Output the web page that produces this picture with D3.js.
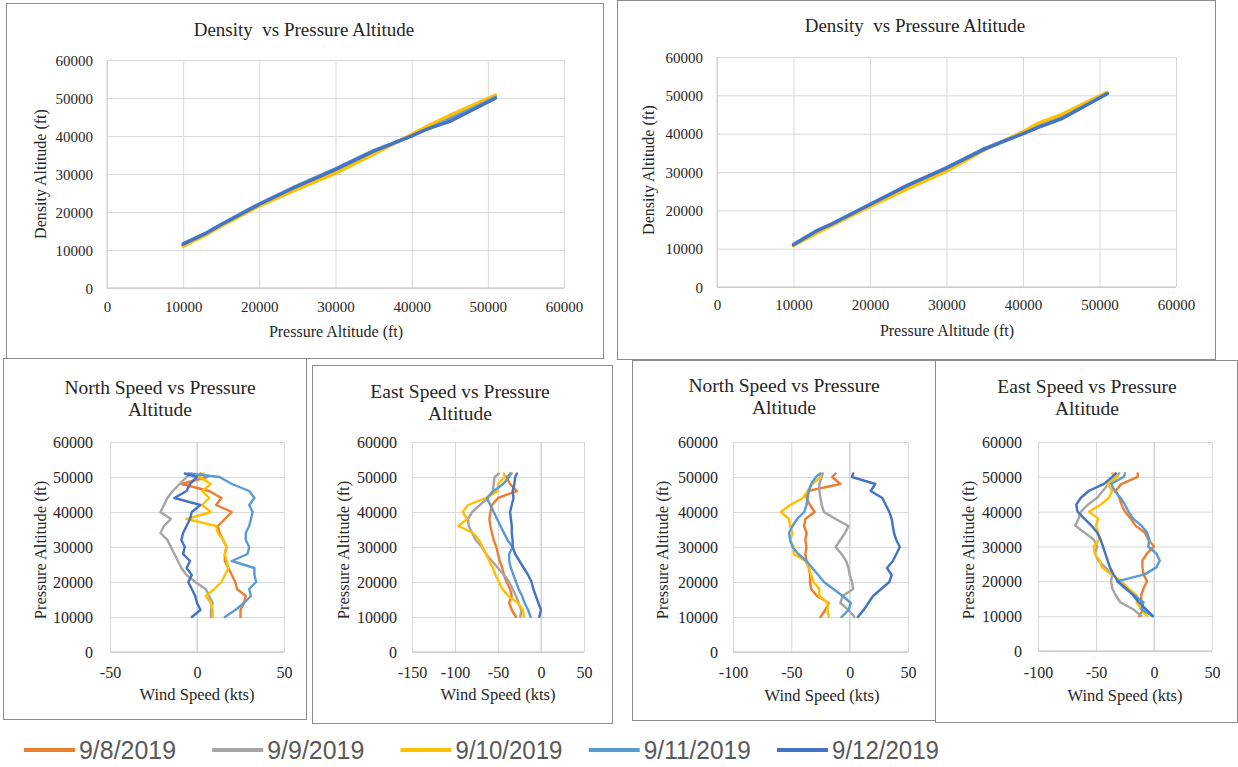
<!DOCTYPE html>
<html><head><meta charset="utf-8">
<script src="https://cdn.jsdelivr.net/npm/d3@7"></script>
<style>body{margin:0;background:#fff}svg{display:block}</style>
</head><body>
<svg id="c" width="1238" height="767"></svg>
<script>
// ---------- DATA ----------
const seriesNames = ["9/8/2019", "9/9/2019", "9/10/2019", "9/11/2019", "9/12/2019"];
const seriesColors = ["#ED7D31", "#A5A5A5", "#FFC000", "#5B9BD5", "#4472C4"];

// Density vs pressure altitude (ft)
const pressureLevels = [10000, 13000, 15000, 20000, 25000, 30000, 35000, 40000, 42000, 45000, 51000];
const densityLeft = [
  [11300, 14300, 16500, 21800, 26300, 30800, 35600, 40300, 42300, 45200, 50500],
  [11200, 14200, 16400, 21800, 26500, 31000, 35800, 40200, 42200, 45000, 50500],
  [11000, 14000, 16300, 21600, 26000, 30200, 35200, 40400, 42600, 45500, 50800],
  [11700, 14500, 16800, 22200, 27000, 31400, 36200, 40000, 41800, 44300, 50200],
  [11500, 14400, 16700, 22000, 26800, 31200, 36000, 40000, 41800, 43800, 49900]
];
const densityRight = [
  [10900, 14300, 16200, 21300, 26300, 30700, 36000, 40300, 42400, 44600, 50600],
  [11000, 14400, 16300, 21400, 26500, 30900, 36000, 40200, 42000, 44300, 50500],
  [10800, 14000, 16000, 21000, 25700, 30200, 35800, 40500, 42800, 45000, 50800],
  [11200, 14700, 16500, 21600, 26700, 31200, 36200, 40000, 41800, 44000, 50500],
  [11000, 14600, 16400, 21500, 26600, 31000, 36000, 40000, 41600, 43800, 50400]
];

// Wind profiles: pressure altitude (ft) and speed (kts)
const altitudes = [10000, 12000, 14000, 16000, 18000, 20000, 22000, 24000, 26000, 28000, 30000,
                   32000, 34000, 36000, 38000, 40000, 42000, 44000, 46000, 48000, 50000, 51000];
const northLeft = [
  [25, 25, 27, 28, 23, 22, 20, 18, 16, 16, 17, 15, 13, 12, 16, 20, 11, 14, 7, -9, 6, 2],
  [8, 8, 9, 7, 5, -1, -6, -9, -11, -13, -15, -17, -21, -19, -15, -21, -19, -17, -14, -10, -6, -3],
  [9, 9, 8, 5, 10, 14, 16, 18, 17, 16, 17, 15, 12, 11, -6, 8, 3, 7, 3, 8, 1, 4],
  [16, 22, 27, 31, 30, 34, 33, 33, 20, 29, 30, 28, 28, 30, 31, 32, 30, 33, 30, 20, 13, -5],
  [-3, 2, 0, -1, -3, -5, -3, -6, -4, -8, -7, -9, -8, -6, -4, -3, 2, -13, -6, -4, 0, -7]
];
const eastLeft = [
  [-29, -34, -37, -34, -36, -40, -43, -45, -48, -50, -52, -55, -57, -59, -60, -59, -57, -50, -28, -36, -40, -34],
  [-24, -23, -26, -29, -33, -37, -43, -50, -57, -64, -69, -76, -80, -84, -85, -80, -71, -62, -56, -55, -54, -49],
  [-20, -21, -27, -38, -45, -49, -53, -56, -60, -64, -68, -72, -79, -96, -86, -91, -85, -64, -50, -50, -42, -43],
  [-12, -15, -19, -22, -26, -29, -32, -35, -37, -37, -33, -39, -43, -47, -51, -55, -59, -63, -55, -44, -37, -36],
  [-2, 0, -3, -6, -9, -11, -15, -20, -25, -30, -33, -33, -34, -34, -35, -36, -34, -32, -33, -31, -30, -28]
];
const northRight = [
  [-25, -21, -18, -28, -33, -34, -34, -35, -37, -38, -37, -38, -37, -39, -38, -30, -34, -37, -36, -8, -15, -12],
  [4, -1, -8, -6, 3, 2, 0, -1, -3, -7, -12, -8, -4, -1, -12, -22, -24, -25, -26, -26, -24, -23],
  [-18, -19, -19, -26, -26, -31, -33, -35, -38, -48, -48, -51, -49, -51, -52, -59, -51, -40, -36, -32, -25, -25],
  [-7, -1, 1, -6, -14, -22, -27, -32, -37, -44, -49, -51, -52, -49, -45, -39, -37, -36, -35, -33, -29, -25],
  [7, 12, 16, 20, 27, 34, 36, 32, 37, 40, 43, 40, 38, 37, 36, 34, 31, 28, 18, 22, 2, 3]
];
const eastRight = [
  [-13, -9, -11, -11, -9, -6, -9, -10, -10, -6, 0, -5, -8, -16, -20, -25, -28, -30, -33, -28, -14, -14],
  [-11, -18, -29, -33, -36, -37, -36, -42, -48, -51, -49, -52, -60, -68, -65, -63, -57, -49, -44, -39, -33, -30],
  [-6, -11, -15, -15, -22, -28, -37, -45, -47, -51, -52, -47, -48, -50, -48, -56, -46, -39, -36, -40, -31, -36],
  [-1, -11, -9, -17, -25, -32, -8, 2, 5, 2, -5, -4, -6, -11, -18, -22, -25, -29, -34, -37, -26, -25],
  [-1, -7, -13, -18, -24, -31, -35, -38, -40, -42, -44, -46, -49, -54, -60, -66, -67, -63, -56, -43, -36, -33]
];

const ticks60k = [0, 10000, 20000, 30000, 40000, 50000, 60000];
const ticksEastLeft = [-150, -100, -50, 0, 50];
const ticksNorthLeft = [-50, 0, 50];
const ticksRight = [-100, -50, 0, 50];

// ---------- DRAWING ----------
const svg = d3.select("#c");
const SERIF = "'Liberation Serif','Times New Roman',serif";
const TXT = "#262626";
const plainFmt = d => String(d);

function drawPanel(p) {
  const g = svg.append("g");
  const [bx0, by0, bx1, by1] = p.box;
  g.append("rect").attr("x", bx0 + 0.5).attr("y", by0 + 0.5)
    .attr("width", bx1 - bx0).attr("height", by1 - by0)
    .attr("fill", "#fff").attr("stroke", "#8c8c8c");
  const [l, t, r, b] = p.plot;
  const x = d3.scaleLinear().domain(p.xDomain).range([l, r]);
  const y = d3.scaleLinear().domain(p.yDomain).range([b, t]);

  // gridlines
  g.append("g").attr("transform", `translate(0,${b})`)
    .call(d3.axisBottom(x).tickValues(p.xTicks).tickSize(-(b - t)).tickFormat(""))
    .call(a => a.select(".domain").remove())
    .call(a => a.selectAll("line").attr("stroke", "#d9d9d9").attr("stroke-width", 1));
  g.append("g").attr("transform", `translate(${l},0)`)
    .call(d3.axisLeft(y).tickValues(p.yTicks).tickSize(-(r - l)).tickFormat(""))
    .call(a => a.select(".domain").remove())
    .call(a => a.selectAll("line").attr("stroke", "#d9d9d9").attr("stroke-width", 1));
  // axis lines
  g.append("line").attr("x1", l).attr("x2", r).attr("y1", y(0)).attr("y2", y(0)).attr("stroke", "#bfbfbf");
  g.append("line").attr("x1", x(0)).attr("x2", x(0)).attr("y1", t).attr("y2", b).attr("stroke", "#cfcfcf");

  // tick labels
  g.append("g").attr("transform", `translate(0,${p.xLabelY})`)
    .call(d3.axisBottom(x).tickValues(p.xTicks).tickSize(0).tickPadding(0).tickFormat(plainFmt))
    .call(a => a.select(".domain").remove())
    .call(a => a.selectAll("text").attr("y", 0).attr("dy", "0.35em")
      .attr("font-family", SERIF).attr("font-size", p.tickFs).attr("fill", TXT));
  g.append("g").attr("transform", `translate(${p.yLabelX},0)`)
    .call(d3.axisLeft(y).tickValues(p.yTicks).tickSize(0).tickPadding(0).tickFormat(plainFmt))
    .call(a => a.select(".domain").remove())
    .call(a => a.selectAll("text").attr("x", 0).attr("dy", "0.35em")
      .attr("font-family", SERIF).attr("font-size", p.tickFs).attr("fill", TXT));

  // series lines
  const line = d3.line().x(d => x(d[0])).y(d => y(d[1]));
  p.series.forEach((pts, i) => {
    g.append("path").datum(pts).attr("d", line).attr("fill", "none")
      .attr("stroke", seriesColors[i]).attr("stroke-width", p.lineW)
      .attr("stroke-linejoin", "round").attr("stroke-linecap", "round");
  });

  // titles
  p.title.forEach((s, k) => {
    g.append("text").attr("x", p.titleX).attr("y", p.titleY + k * p.titleGap)
      .attr("dy", "0.35em").attr("text-anchor", "middle").style("white-space", "pre")
      .attr("font-family", SERIF).attr("font-size", p.titleFs).attr("fill", TXT).text(s);
  });
  g.append("text").attr("x", p.xTitle[0]).attr("y", p.xTitle[1]).attr("dy", "0.35em")
    .attr("text-anchor", "middle").attr("font-family", SERIF).attr("font-size", p.axisFs)
    .attr("fill", TXT).text(p.xTitleText);
  g.append("text").attr("transform", `translate(${p.yTitle[0]},${p.yTitle[1]}) rotate(-90)`)
    .attr("dy", "0.35em").attr("text-anchor", "middle").attr("font-family", SERIF)
    .attr("font-size", p.axisFs).attr("fill", TXT).text(p.yTitleText);
}

const densitySeries = arr => arr.map(vals => pressureLevels.map((pa, k) => [pa, vals[k]]));
const windSeries = arr => arr.map(vals => altitudes.map((a, k) => [vals[k], a]));

const topCommon = {
  xDomain: [0, 60000], yDomain: [0, 60000], xTicks: ticks60k, yTicks: ticks60k,
  tickFs: 15, titleFs: 19, axisFs: 16, lineW: 3.2, titleGap: 0,
  xTitleText: "Pressure Altitude (ft)", yTitleText: "Density Altitude (ft)",
  title: ["Density  vs Pressure Altitude"]
};
drawPanel(Object.assign({}, topCommon, {
  box: [6, 3, 603, 358], plot: [107, 60, 564, 288],
  xLabelY: 307, yLabelX: 93, titleX: 304, titleY: 29,
  xTitle: [336, 331], yTitle: [40, 174],
  series: densitySeries(densityLeft)
}));
drawPanel(Object.assign({}, topCommon, {
  box: [617, 0, 1215, 359], plot: [717, 57, 1176, 287],
  xLabelY: 305, yLabelX: 703, titleX: 915, titleY: 25,
  xTitle: [947, 330], yTitle: [648, 170],
  series: densitySeries(densityRight)
}));

const botCommon = {
  yDomain: [0, 60000], yTicks: ticks60k, tickFs: 16, titleFs: 19.5, axisFs: 16.5,
  lineW: 2.4, titleGap: 22, xTitleText: "Wind Speed (kts)", yTitleText: "Pressure Altitude (ft)"
};
drawPanel(Object.assign({}, botCommon, {
  box: [3, 358, 306, 719], plot: [110, 442, 284, 652],
  xDomain: [-50, 50], xTicks: ticksNorthLeft,
  xLabelY: 672, yLabelX: 93, titleX: 160, titleY: 387,
  title: ["North Speed vs Pressure", "Altitude"],
  xTitle: [197, 694], yTitle: [40, 550],
  series: windSeries(northLeft)
}));
drawPanel(Object.assign({}, botCommon, {
  box: [312, 365, 612, 723], plot: [412, 442, 584, 652],
  xDomain: [-150, 50], xTicks: ticksEastLeft,
  xLabelY: 672, yLabelX: 397, titleX: 460, titleY: 391,
  title: ["East Speed vs Pressure", "Altitude"],
  xTitle: [498, 694], yTitle: [343, 550],
  series: windSeries(eastLeft)
}));
drawPanel(Object.assign({}, botCommon, {
  box: [632, 360, 936, 720], plot: [733, 442, 908, 652],
  xDomain: [-100, 50], xTicks: ticksRight,
  xLabelY: 672, yLabelX: 718, titleX: 784, titleY: 385,
  title: ["North Speed vs Pressure", "Altitude"],
  xTitle: [822, 695], yTitle: [662, 550],
  series: windSeries(northRight)
}));
drawPanel(Object.assign({}, botCommon, {
  box: [935, 360, 1237, 722], plot: [1038, 442, 1212, 651],
  xDomain: [-100, 50], xTicks: ticksRight,
  xLabelY: 672, yLabelX: 1022, titleX: 1087, titleY: 386,
  title: ["East Speed vs Pressure", "Altitude"],
  xTitle: [1125, 695], yTitle: [968, 550],
  series: windSeries(eastRight)
}));

// ---------- LEGEND ----------
const legendX = d3.scalePoint().domain(seriesNames).range([24, 777]);
const lg = svg.append("g");
seriesNames.forEach((name, i) => {
  const x0 = legendX(name);
  lg.append("line").attr("x1", x0).attr("x2", x0 + 51).attr("y1", 750).attr("y2", 750)
    .attr("stroke", seriesColors[i]).attr("stroke-width", 4);
  lg.append("text").attr("x", x0 + 55).attr("y", 750).attr("dy", "0.35em")
    .attr("font-family", "'Liberation Sans Narrow','Arial Narrow','Liberation Sans',sans-serif")
    .attr("font-size", 25).attr("fill", "#595959")
    .attr("textLength", name.length === 8 ? 97 : 107).attr("lengthAdjust", "spacingAndGlyphs")
    .text(name);
});
</script>
</body></html>
